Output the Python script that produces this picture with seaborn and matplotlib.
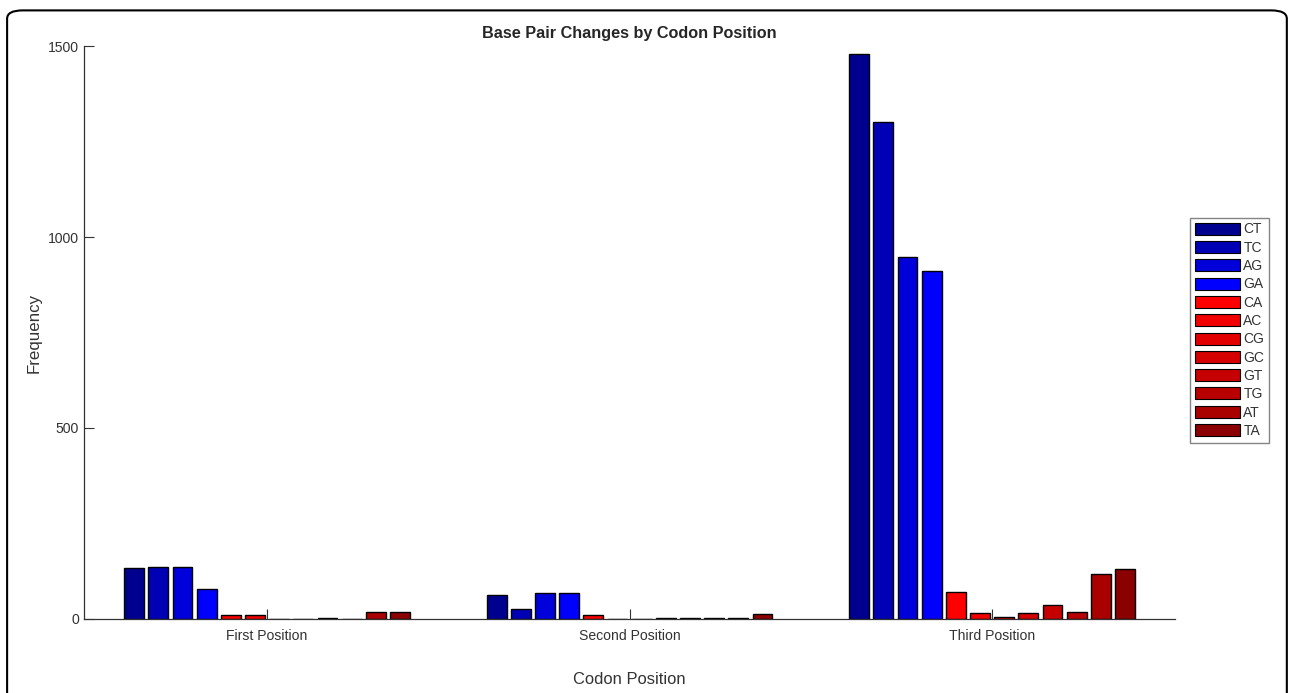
import pandas as pd
import matplotlib.pyplot as plt
import seaborn as sns
from matplotlib.patches import FancyBboxPatch

# codon positions and substitution types
positions = ['First Position', 'Second Position', 'Third Position']
changes = ['CT', 'TC', 'AG', 'GA', 'CA', 'AC', 'CG', 'GC', 'GT', 'TG', 'AT', 'TA']

first_pos = [132, 136, 136, 78, 10, 10, 0, 0, 3, 0, 17, 17]
second_pos = [63, 27, 67, 69, 10, 0, 0, 3, 1, 3, 3, 13]
third_pos = [1479, 1301, 947, 911, 71, 16, 4, 16, 37, 18, 118, 131]

colors = ['#00008f', '#0000b5', '#0000da', '#0000ff',
          '#ff0000', '#f20000', '#e30000', '#d50000',
          '#c60000', '#b80000', '#a90000', '#8b0000']

rows = []
for pos, vals in zip(positions, [first_pos, second_pos, third_pos]):
    for ch, v in zip(changes, vals):
        rows.append({'position': pos, 'change': ch, 'freq': v})
df = pd.DataFrame(rows)

sns.set_theme(style='white')
plt.rcParams['font.family'] = ['Liberation Sans', 'DejaVu Sans']

fig = plt.figure(figsize=(12.92, 6.93), dpi=100)
ax = fig.add_axes([0.065, 0.107, 0.8445, 0.8265])

sns.barplot(data=df, x='position', y='freq', hue='change', order=positions,
            hue_order=changes, palette=colors, width=0.8, gap=0.18,
            edgecolor='black', linewidth=1, saturation=1, ax=ax)

ax.set_xlim(-0.505, 2.505)
ax.set_ylim(0, 1500)
ax.set_yticks([0, 500, 1000, 1500])
ax.tick_params(axis='both', direction='in', length=7, width=0.8,
               labelsize=10.1, colors='#333333', bottom=True, left=True)
ax.tick_params(axis='x', pad=7)
ax.set_title('Base Pair Changes by Codon Position', fontsize=11.7,
             fontweight='bold', pad=6)
ax.set_xlabel('Codon Position', fontsize=11.9, labelpad=21, color='#333333')
ax.set_ylabel('Frequency', fontsize=12.2, labelpad=5, color='#333333')
for side in ['top', 'right']:
    ax.spines[side].set_visible(False)
for side in ['left', 'bottom']:
    ax.spines[side].set_color('#333333')
    ax.spines[side].set_linewidth(0.9)

sns.move_legend(ax, 'upper left', bbox_to_anchor=(0.921, 0.686),
                bbox_transform=fig.transFigure, title=None, fontsize=10,
                frameon=True, fancybox=False, edgecolor='#666666',
                handlelength=3.25, handleheight=0.95, labelspacing=0.31,
                handletextpad=0.25, borderpad=0.35, borderaxespad=0)
leg = ax.get_legend()
for h in leg.legend_handles:
    h.set_edgecolor('black')
    h.set_linewidth(0.8)
for t in leg.get_texts():
    t.set_color('#333333')

# rounded frame around the panel (bottom runs off the image)
frame = FancyBboxPatch((0.0055, -0.1), 0.9905, 1.085,
                       boxstyle='round,pad=0,rounding_size=0.012',
                       transform=fig.transFigure, fill=False,
                       edgecolor='black', linewidth=1.5)
fig.patches.append(frame)

fig.savefig('out.png', dpi=100)
